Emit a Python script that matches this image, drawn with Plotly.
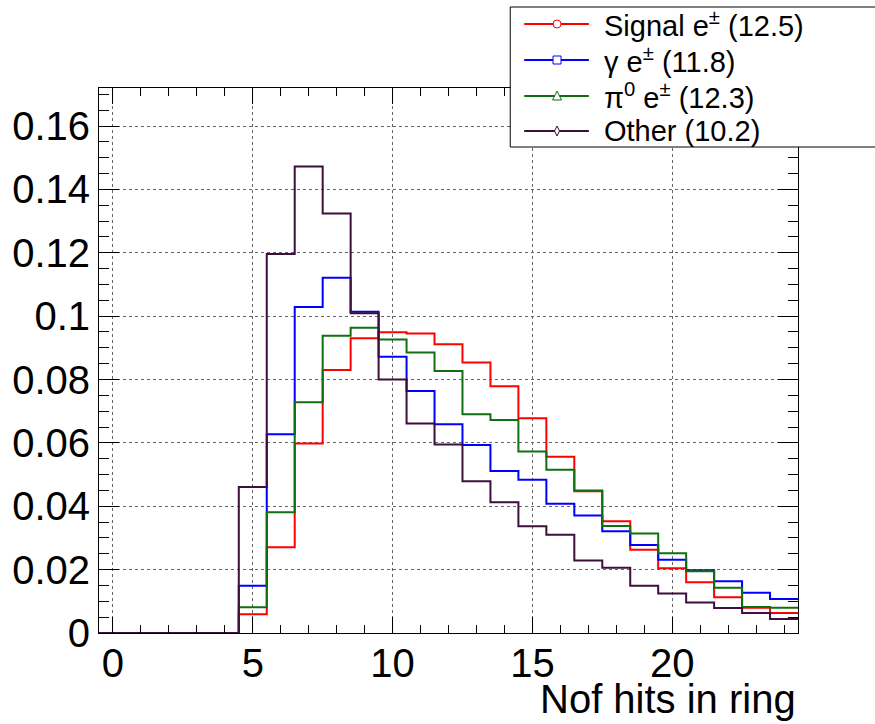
import plotly.graph_objects as go

# ---- data ----
bin_edges = [i - 0.5 for i in range(26)]  # bins centred on 0..24
signal = [0, 0, 0, 0, 0, 0.0059, 0.0271, 0.0598, 0.0830, 0.0930, 0.0949, 0.0945, 0.0911,
          0.0854, 0.0779, 0.0678, 0.0556, 0.0447, 0.0353, 0.0263, 0.0204, 0.0160, 0.0113,
          0.0080, 0.0063]
gamma = [0, 0, 0, 0, 0, 0.0149, 0.0627, 0.1029, 0.1121, 0.1014, 0.0872, 0.0764, 0.0659,
         0.0593, 0.0511, 0.0484, 0.0408, 0.0371, 0.0321, 0.0278, 0.0231, 0.0198, 0.0163,
         0.0127, 0.0107]
pi0 = [0, 0, 0, 0, 0, 0.0081, 0.0381, 0.0728, 0.0938, 0.0963, 0.0926, 0.0885, 0.0827,
       0.0690, 0.0672, 0.0573, 0.0515, 0.0450, 0.0338, 0.0314, 0.0252, 0.0195, 0.0143,
       0.0082, 0.0080]
other = [0, 0, 0, 0, 0, 0.0461, 0.1196, 0.1472, 0.1324, 0.1009, 0.0800, 0.0661, 0.0595,
         0.0479, 0.0413, 0.0337, 0.0310, 0.0229, 0.0206, 0.0149, 0.0125, 0.0096, 0.0079,
         0.0063, 0.0044]
series_names = ["Signal e<sup>±</sup> (12.5)", "γ e<sup>±</sup> (11.8)",
                "π<sup>0</sup> e<sup>±</sup> (12.3)", "Other (10.2)"]
series_colors = ["#ff0000", "#0000ff", "#107010", "#3c0f3c"]
x_tickvals = [0, 5, 10, 15, 20]
x_ticktext = ["0", "5", "10", "15", "20"]
y_tickvals = [0, 0.02, 0.04, 0.06, 0.08, 0.10, 0.12, 0.14, 0.16]
y_ticktext = ["0", "0.02", "0.04", "0.06", "0.08", "0.1", "0.12", "0.14", "0.16"]
x_title = "Nof hits in ring"

W, H = 875, 724
ML, MR, MT, MB = 96, 77, 88, 91
PW, PH = W - ML - MR, H - MT - MB


def px(x):
    return (x - ML) / PW


def py(y):
    return (H - MB - y) / PH


fig = go.Figure()
for vals, name, col in zip([signal, gamma, pi0, other], series_names, series_colors):
    fig.add_trace(go.Scatter(x=bin_edges, y=vals + [vals[-1]], mode="lines",
                             line=dict(color=col, width=2, shape="hv"),
                             name=name, showlegend=False, hoverinfo="skip"))

font_family = "Liberation Sans, Arial, Helvetica, sans-serif"
axis_common = dict(
    showline=True, linecolor="black", linewidth=1, mirror="allticks",
    ticks="inside", tickcolor="black", tickwidth=1,
    showgrid=True, gridcolor="#666", griddash="dot", gridwidth=1,
    zeroline=False, tickfont=dict(family=font_family, size=40, color="black"),
    tickmode="array",
)
fig.update_xaxes(range=[-0.5, 24.5], tickvals=x_tickvals, ticktext=x_ticktext,
                 ticklen=16, ticklabelstandoff=-5,
                 minor=dict(tickmode="linear", tick0=0, dtick=1, ticks="inside",
                            ticklen=8, tickcolor="black", showgrid=False),
                 **axis_common)
fig.update_yaxes(range=[0, 0.172], tickvals=y_tickvals, ticktext=y_ticktext,
                 ticklen=20,
                 minor=dict(tickmode="linear", tick0=0, dtick=0.005, ticks="inside",
                            ticklen=10, tickcolor="black", showgrid=False),
                 **axis_common)

shapes = []
annotations = []
# legend box
shapes.append(dict(type="rect", xref="paper", yref="paper",
                   x0=px(509), x1=px(905), y0=py(147), y1=py(7),
                   line=dict(color="black", width=1), fillcolor="white", layer="above"))
rows = [24, 60, 96, 131]
mx = 556
for i, (name, col, ry) in enumerate(zip(series_names, series_colors, rows)):
    shapes.append(dict(type="line", xref="paper", yref="paper",
                       x0=px(523), x1=px(588), y0=py(ry), y1=py(ry),
                       line=dict(color=col, width=2), layer="above"))
    if i == 0:
        shapes.append(dict(type="circle", xref="paper", yref="paper",
                           x0=px(mx - 4), x1=px(mx + 4), y0=py(ry + 4), y1=py(ry - 4),
                           line=dict(color=col, width=1), fillcolor="white", layer="above"))
    elif i == 1:
        shapes.append(dict(type="rect", xref="paper", yref="paper",
                           x0=px(mx - 4), x1=px(mx + 4), y0=py(ry + 4), y1=py(ry - 4),
                           line=dict(color=col, width=1), fillcolor="white", layer="above"))
    elif i == 2:
        path = "M {} {} L {} {} L {} {} Z".format(px(mx - 4.5), py(ry + 4), px(mx + 4.5), py(ry + 4),
                                                 px(mx), py(ry - 5))
        shapes.append(dict(type="path", xref="paper", yref="paper", path=path,
                           line=dict(color=col, width=1), fillcolor="white", layer="above"))
    else:
        path = "M {} {} L {} {} L {} {} L {} {} Z".format(px(mx), py(ry - 5), px(mx + 2.5), py(ry),
                                                         px(mx), py(ry + 5), px(mx - 2.5), py(ry))
        shapes.append(dict(type="path", xref="paper", yref="paper", path=path,
                           line=dict(color=col, width=1), fillcolor="white", layer="above"))
    annotations.append(dict(xref="paper", yref="paper", x=px(601), y=py(ry),
                            xanchor="left", yanchor="middle", text=name, showarrow=False,
                            font=dict(family=font_family, size=29, color="black")))

annotations.append(dict(xref="paper", yref="paper", x=1.0, y=py(699),
                        xanchor="right", yanchor="middle", text=x_title, showarrow=False,
                        font=dict(family=font_family, size=40, color="black")))

fig.update_layout(width=W, height=H, margin=dict(l=ML, r=MR, t=MT, b=MB, pad=0),
                  paper_bgcolor="white", plot_bgcolor="white",
                  shapes=shapes, annotations=annotations, showlegend=False)

fig.write_html("out.html")
